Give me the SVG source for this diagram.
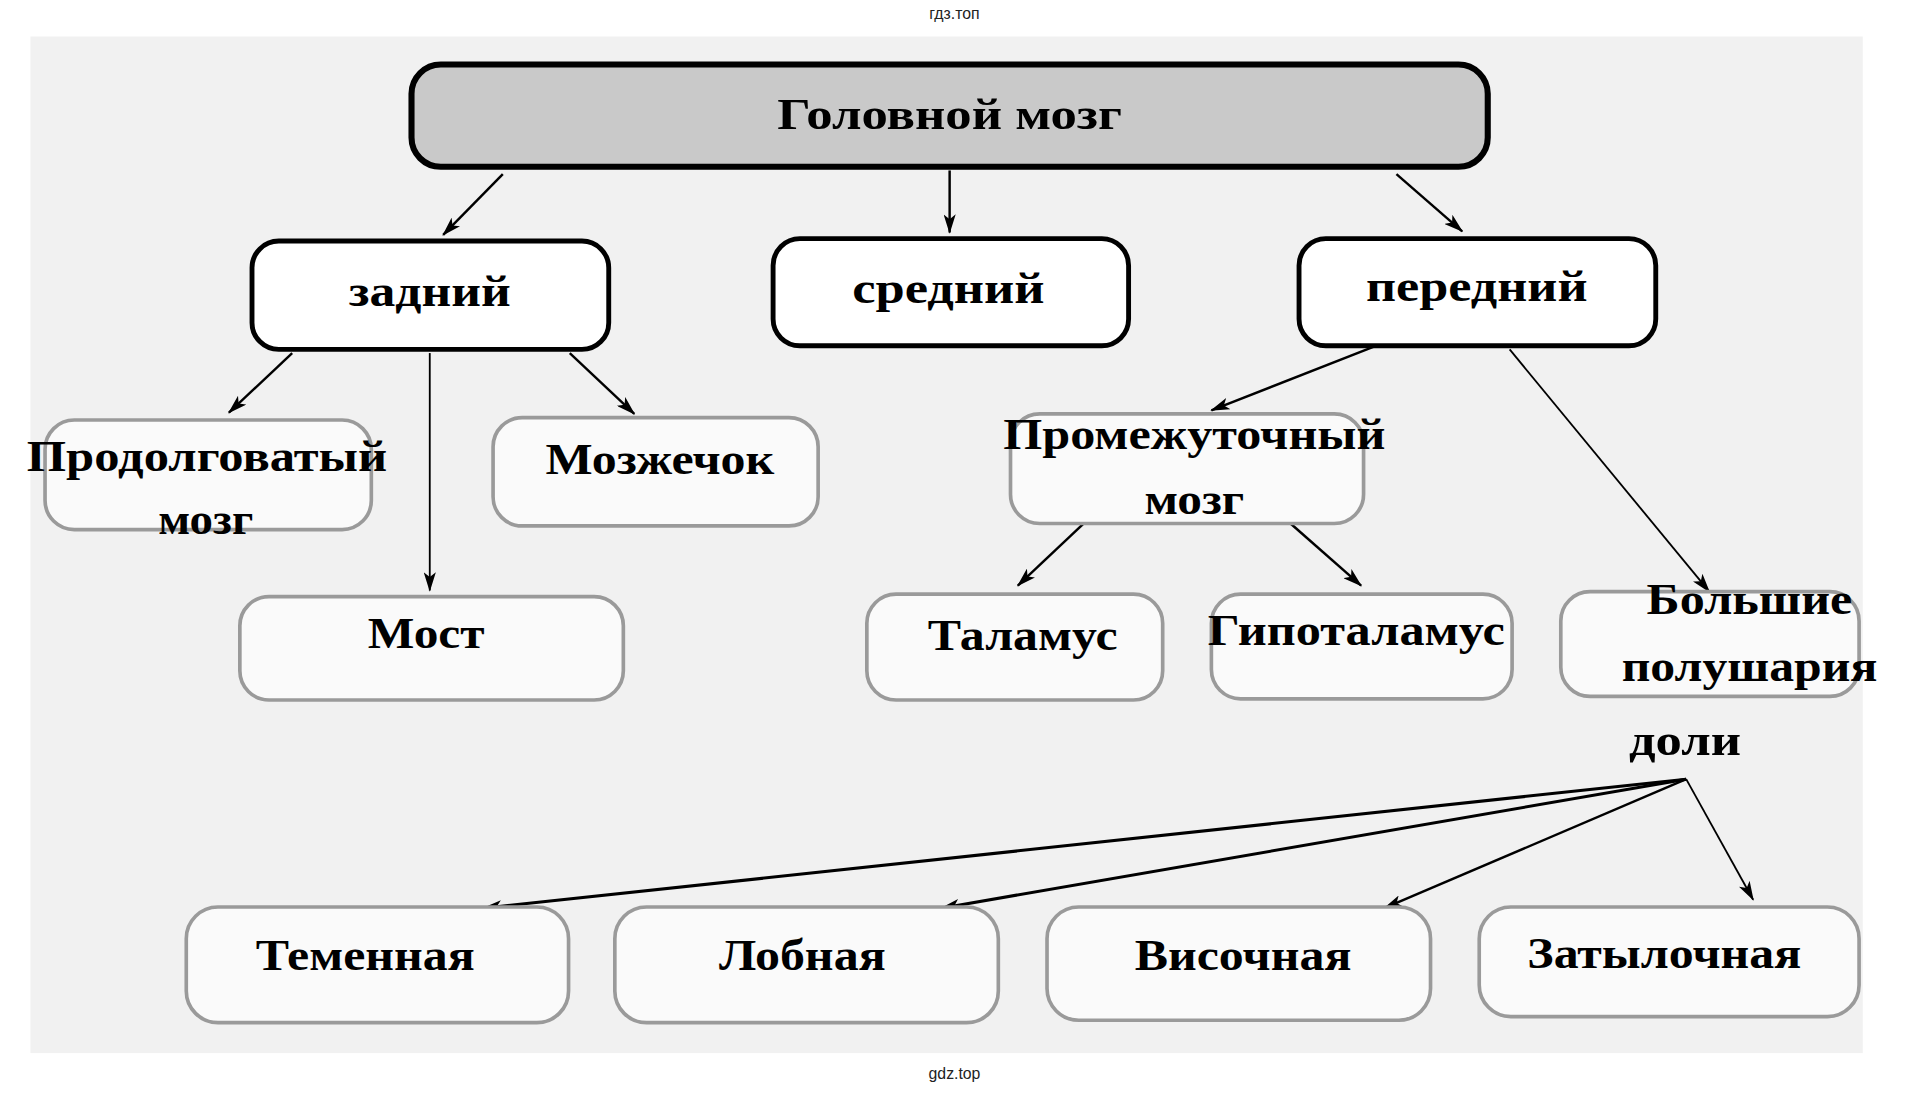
<svg xmlns="http://www.w3.org/2000/svg" width="1909" height="1093" viewBox="0 0 1909 1093">
<style>
.t{font-family:"Liberation Serif","DejaVu Serif",serif;font-weight:bold;font-size:36px;fill:#000;text-anchor:middle}
.w{font-family:"Liberation Sans",Arial,sans-serif;font-size:13px;fill:#222;text-anchor:middle}
.main{fill:#c9c9c9;stroke:#000;stroke-width:5}
.top{fill:#fff;stroke:#000;stroke-width:4}
.faint{fill:#fafafa;stroke:#9a9a9a;stroke-width:3}
.c{stroke:#000;stroke-width:2;fill:none;marker-end:url(#ah)}
</style>
<defs>
<marker id="ah" viewBox="0 0 16 10" refX="15" refY="5" markerWidth="16" markerHeight="10" markerUnits="userSpaceOnUse" orient="auto">
<path d="M0,0 L16,5 L0,10 L4,5 Z" fill="#000"/>
</marker>
</defs>
<rect width="1909" height="1093" fill="#fff"/>
<g transform="scale(1.21747)">
<rect x="25" y="30" width="1505" height="835" fill="#f1f1f1"/>
<text class="w" x="784" y="16">гдз.топ</text>
<text class="w" x="784" y="886">gdz.top</text>

<g id="connectors">
<line class="c" x1="413" y1="143" x2="364" y2="193"/>
<line class="c" x1="780" y1="140" x2="780" y2="191"/>
<line class="c" x1="1147" y1="143" x2="1201" y2="190"/>
<line class="c" x1="240" y1="290" x2="188" y2="339"/>
<line class="c" x1="353" y1="290" x2="353" y2="485" style="stroke-width:1.5"/>
<line class="c" x1="468" y1="290" x2="521" y2="340"/>
<line class="c" x1="1128" y1="285" x2="995" y2="337"/>
<line class="c" x1="1240" y1="287" x2="1404" y2="486" style="stroke-width:1.5"/>
<line class="c" x1="890" y1="430" x2="836" y2="481"/>
<line class="c" x1="1060" y1="430" x2="1118" y2="481"/>
<line class="c" x1="1385" y1="640" x2="397" y2="746" style="stroke-width:2.5"/>
<line class="c" x1="1385" y1="640" x2="773" y2="746" style="stroke-width:2.5"/>
<line class="c" x1="1385" y1="640" x2="1137" y2="746"/>
<line class="c" x1="1385" y1="640" x2="1440" y2="739" style="stroke-width:1.5"/>
</g>

<g id="n-golovnoy"><rect class="main" x="338" y="53" width="884" height="84" rx="24"/><text class="t" x="780" y="106" textLength="283" lengthAdjust="spacingAndGlyphs">Головной мозг</text></g>
<g id="n-zadniy"><rect class="top" x="207" y="198" width="293" height="89" rx="22"/><text class="t" x="353" y="251" textLength="133" lengthAdjust="spacingAndGlyphs">задний</text></g>
<g id="n-sredniy"><rect class="top" x="635" y="196" width="292" height="88" rx="22"/><text class="t" x="779" y="249" textLength="158" lengthAdjust="spacingAndGlyphs">средний</text></g>
<g id="n-peredniy"><rect class="top" x="1067" y="196" width="293" height="88" rx="22"/><text class="t" x="1213" y="247" textLength="182" lengthAdjust="spacingAndGlyphs">передний</text></g>

<g id="n-prodolg"><rect class="faint" x="37" y="345" width="268" height="90" rx="24"/><text class="t" x="170" y="387" textLength="296" lengthAdjust="spacingAndGlyphs">Продолговатый</text><text class="t" x="169" y="439" textLength="78" lengthAdjust="spacingAndGlyphs">мозг</text></g>
<g id="n-mozzh"><rect class="faint" x="405" y="343" width="267" height="89" rx="24"/><text class="t" x="542" y="389" textLength="188" lengthAdjust="spacingAndGlyphs">Мозжечок</text></g>
<g id="n-promezh"><rect class="faint" x="830" y="340" width="290" height="90" rx="24"/><text class="t" x="981" y="369" textLength="314" lengthAdjust="spacingAndGlyphs">Промежуточный</text><text class="t" x="981" y="422" textLength="82" lengthAdjust="spacingAndGlyphs">мозг</text></g>

<g id="n-most"><rect class="faint" x="197" y="490" width="315" height="85" rx="24"/><text class="t" x="350" y="532" textLength="96" lengthAdjust="spacingAndGlyphs">Мост</text></g>
<g id="n-talamus"><rect class="faint" x="712" y="488" width="243" height="87" rx="24"/><text class="t" x="840" y="534" textLength="156" lengthAdjust="spacingAndGlyphs">Таламус</text></g>
<g id="n-gipotal"><rect class="faint" x="995" y="488" width="247" height="86" rx="24"/><text class="t" x="1114" y="530" textLength="244" lengthAdjust="spacingAndGlyphs">Гипоталамус</text></g>
<g id="n-bolshie"><rect class="faint" x="1282" y="486" width="245" height="86" rx="24"/><text class="t" x="1437" y="504" textLength="169" lengthAdjust="spacingAndGlyphs">Большие</text><text class="t" x="1437" y="559" textLength="210" lengthAdjust="spacingAndGlyphs">полушария</text></g>
<g id="n-doli"><text class="t" x="1384" y="620" textLength="92" lengthAdjust="spacingAndGlyphs">доли</text></g>

<g id="n-temen"><rect class="faint" x="153" y="745" width="314" height="95" rx="26"/><text class="t" x="300" y="797" textLength="180" lengthAdjust="spacingAndGlyphs">Теменная</text></g>
<g id="n-lobn"><rect class="faint" x="505" y="745" width="315" height="95" rx="26"/><text class="t" x="659" y="797" textLength="137" lengthAdjust="spacingAndGlyphs">Лобная</text></g>
<g id="n-visoch"><rect class="faint" x="860" y="745" width="315" height="93" rx="26"/><text class="t" x="1021" y="797" textLength="178" lengthAdjust="spacingAndGlyphs">Височная</text></g>
<g id="n-zatyl"><rect class="faint" x="1215" y="745" width="312" height="90" rx="26"/><text class="t" x="1367" y="795" textLength="225" lengthAdjust="spacingAndGlyphs">Затылочная</text></g>
</g>
</svg>
